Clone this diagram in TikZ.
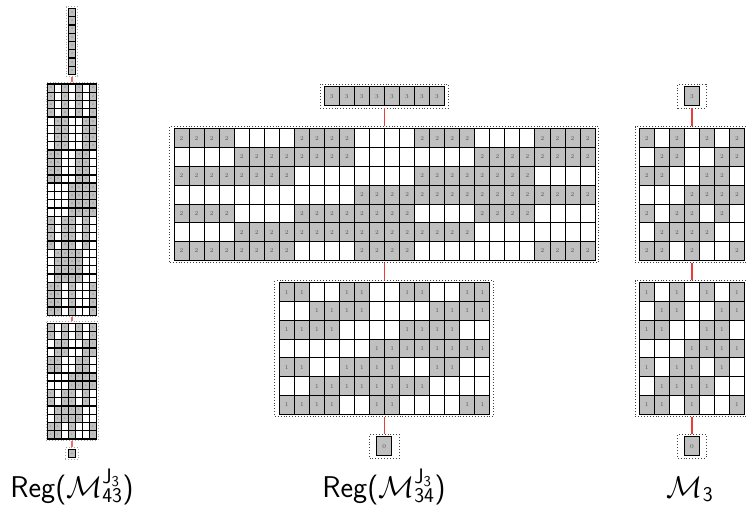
\documentclass[tikz,border=0pt]{standalone}
\usepackage{fix-cm}
\definecolor{cellgray}{RGB}{192,192,192}
\definecolor{digitgray}{RGB}{85,85,85}
\definecolor{linkred}{RGB}{235,60,60}
% #1 name, #2 x0, #3 y0, #4 cell width, #5 cell height, #6 hrep, #7 vrep, #8 digit
\newcommand{\hamgrid}[8]{%
  \foreach \bits [count=\r] in {{1,0,1,0,1,0,1},{0,1,1,0,0,1,1},{1,1,0,0,1,1,0},{0,0,0,1,1,1,1},{1,0,1,1,0,1,0},{0,1,1,1,1,0,0},{1,1,0,1,0,0,1}}{
    \foreach \b [count=\c] in \bits{
      \foreach \i in {1,...,#6}{
        \foreach \j in {1,...,#7}{
          \pgfmathtruncatemacro{\gx}{(\c-1)*#6+\i-1}
          \pgfmathtruncatemacro{\gy}{(\r-1)*#7+\j-1}
          \ifnum\b=1
            \node[oncell,minimum width=#4,minimum height=#5] (#1-\gx-\gy) at ({#2+(\gx+0.5)*#4},{#3+(\gy+0.5)*#5}) {#8};
          \else
            \node[offcell,minimum width=#4,minimum height=#5] (#1-\gx-\gy) at ({#2+(\gx+0.5)*#4},{#3+(\gy+0.5)*#5}) {};
          \fi
        }}}}}

\begin{document}
\begin{tikzpicture}[x=1pt,y=-1pt,
  cell/.style={rectangle,draw=black,line width=1pt,inner sep=0pt,font=\fontsize{6}{6}\selectfont},
  oncell/.style={cell,fill=cellgray,text=digitgray},
  offcell/.style={cell,fill=white},
  frame/.style={rectangle,draw=black!75,line width=0.9pt,dash pattern=on 0.9pt off 2pt,inner sep=0pt},
  link/.style={draw=linkred,line width=1.3pt},
  lbl/.style={font=\fontsize{30}{34}\selectfont\sffamily,anchor=base}]
  \useasboundingbox (0,0) rectangle (747,509);

  \begin{scope}[cell/.append style={line width=1.3pt,font=\fontsize{2.5}{2.5}\selectfont},
                frame/.append style={draw=black!35},link/.append style={draw=linkred!75,line width=2pt}]
    \foreach \i in {0,...,7}
      \node[oncell,minimum width=7,minimum height=8.3] (ltop-\i) at (72,{8.3+(\i+0.5)*8.3}) {3};
    \hamgrid{ltwo}{47.5}{84}{7}{8.26}{1}{4}{2}
    \hamgrid{lone}{47.5}{323.3}{7}{8.26}{1}{2}{1}
    \node[oncell,minimum width=7,minimum height=8.3] (lzero) at (72,453.6) {0};
    \node[frame,minimum width=11.6,minimum height=69.6] (ltopbox) at (72,41.5) {};
    \node[frame,minimum width=52,minimum height=234] (ltwobox) at (72,199.7) {};
    \node[frame,minimum width=52,minimum height=118.7] (lonebox) at (72,381.1) {};
    \node[frame,minimum width=13.5,minimum height=12] (lzerobox) at (72,453.3) {};
    \draw[link] (ltopbox) -- (ltwobox);
    \draw[link] (ltwobox) -- (lonebox);
    \draw[link] (lonebox) -- (lzerobox);
  \end{scope}

  \foreach \i in {0,...,7}
    \node[oncell,minimum width=15.04,minimum height=18.8] (mtop-\i) at ({324.2+(\i+0.5)*15.04},96.1) {3};
  \hamgrid{mtwo}{174}{128.8}{15.04}{18.8}{4}{1}{2}
  \hamgrid{mone}{279.3}{282.7}{15.04}{18.8}{2}{1}{1}
  \node[oncell,minimum width=15.04,minimum height=18.8] (mzero) at (384.3,446.1) {0};
  \node[frame,minimum width=128.5,minimum height=24] (mtopbox) at (384.3,96) {};
  \node[frame,minimum width=429,minimum height=136] (mtwobox) at (384.3,194.5) {};
  \node[frame,minimum width=219,minimum height=136] (monebox) at (384.3,348.5) {};
  \node[frame,minimum width=29.5,minimum height=23.7] (mzerobox) at (384.3,446.2) {};
  \draw[link] (mtopbox) -- (mtwobox);
  \draw[link] (mtwobox) -- (monebox);
  \draw[link] (monebox) -- (mzerobox);

  \node[oncell,minimum width=15.04,minimum height=18.8] (rtop) at (691.9,96.1) {3};
  \hamgrid{rtwo}{639.3}{128.8}{15.04}{18.8}{1}{1}{2}
  \hamgrid{rone}{639.3}{282.7}{15.04}{18.8}{1}{1}{1}
  \node[oncell,minimum width=15.04,minimum height=18.8] (rzero) at (691.9,446.1) {0};
  \node[frame,minimum width=28.3,minimum height=24] (rtopbox) at (691.9,96) {};
  \node[frame,minimum width=113.3,minimum height=136] (rtwobox) at (691.9,194.5) {};
  \node[frame,minimum width=113.3,minimum height=136] (ronebox) at (691.9,348.5) {};
  \node[frame,minimum width=28.3,minimum height=23.7] (rzerobox) at (691.9,446.2) {};
  \draw[link] (rtopbox) -- (rtwobox);
  \draw[link] (rtwobox) -- (ronebox);
  \draw[link] (ronebox) -- (rzerobox);

  \node[lbl] (lbll) at (72,497) {Reg(\(\mathcal{M}^{\mathsf{J}_{\mathsf{3}}}_{\mathsf{43}}\))};
  \node[lbl] (lblm) at (384,497) {Reg(\(\mathcal{M}^{\mathsf{J}_{\mathsf{3}}}_{\mathsf{34}}\))};
  \node[lbl] (lblr) at (690,497) {\(\mathcal{M}_{\mathsf{3}}\)};
\end{tikzpicture}
\end{document}
